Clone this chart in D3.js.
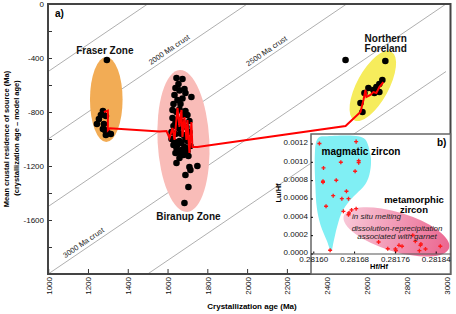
<!DOCTYPE html>
<html>
<head>
<meta charset="utf-8">
<script src="https://cdn.jsdelivr.net/npm/d3@7"></script>
<style>
  body { margin: 0; background: #fff; }
  text { font-family: "Liberation Sans", Arial, Helvetica, sans-serif; }
</style>
</head>
<body>
<script>
// ---- data ----
// main panel: [crystallization age (Ma), crustal residence (Ma)]
const fraser = [[1295,-415],[1275,-793],[1265,-822],[1290,-830],[1255,-852],[1245,-889],
  [1280,-889],[1285,-933],[1300,-956],[1315,-963],[1290,-970],[1275,-926]];
const biranup = [[1645,-548],[1675,-556],[1655,-593],[1640,-622],[1685,-630],[1690,-659],
  [1720,-689],[1635,-674],[1650,-711],[1630,-741],[1665,-741],[1625,-785],[1645,-800],
  [1690,-793],[1700,-822],[1625,-844],[1650,-859],[1710,-867],[1675,-874],[1630,-904],
  [1695,-911],[1655,-918],[1620,-948],[1710,-948],[1640,-963],[1680,-970],[1620,-1000],
  [1660,-1015],[1700,-1015],[1630,-1044],[1645,-1067],[1670,-1081],[1695,-1074],[1715,-1052],
  [1640,-1104],[1680,-1119],[1705,-1126],[1660,-1141],[1645,-1178],[1710,-1207],[1750,-1200],
  [1715,-1230],[1690,-1267],[1705,-1356],[1685,-1474],[1660,-780],[1680,-820],[1640,-880],
  [1665,-960],[1690,-1000],[1650,-1040],[1670,-1030],[1685,-1060],[1635,-1020],[1660,-1100],
  [1700,-1090],[1675,-700],[1660,-640]];
const northern = [[2495,-415],[2695,-422],[2680,-563],[2665,-593],[2650,-615],[2635,-637],
  [2610,-622],[2590,-659],[2640,-659],[2665,-652],[2570,-733],[2580,-800]];

// running mean trend (red line)
const meanTrend = [[1280,-800],[1300,-790],[1300,-935],[1310,-920],[1560,-944],[1595,-941],
  [1610,-993],[1625,-918],[1635,-1007],[1650,-770],[1660,-911],[1670,-785],[1675,-985],
  [1685,-837],[1695,-1007],[1700,-859],[1710,-1104],[1720,-874],[1725,-1059],[1750,-1059],
  [2495,-904],[2570,-800],[2585,-711],[2595,-637],[2600,-689],[2620,-674],[2635,-652],
  [2650,-659],[2665,-615],[2685,-578]];

// zone envelopes: centre, half-widths (Ma) and tilt (deg)
const zones = [
  {name: "Fraser Zone", age: 1292, res: -707, dAge: 82, dRes: 315, tilt: 0},
  {name: "Biranup Zone", age: 1680, res: -1015, dAge: 130, dRes: 526, tilt: -3},
  {name: "Northern Foreland", age: 2632, res: -607, dAge: 80, dRes: 289, tilt: 28.5}
];
const zoneColors = {"Fraser Zone": "#f2ac55", "Biranup Zone": "#f9bcb8", "Northern Foreland": "#f6ec5c"};
const zoneLabels = [
  {lines: ["Fraser Zone"], age: 1285, res: -370},
  {lines: ["Biranup Zone"], age: 1705, res: -1600},
  {lines: ["Northern", "Foreland"], age: 2697, res: -281}
];

// model-age reference lines
const crustAges = [1500, 2000, 2500, 3000, 3500];
const crustLabels = [{T: 2000, age: 1625}, {T: 2500, age: 2115}, {T: 3000, age: 1195}];

const xTicks = d3.range(1000, 3001, 200);
const yTicks = d3.range(0, -2001, -200);

// inset: [176Hf/177Hf, Lu/Hf]
const magmaticPts = [[0.281612,0.00120],[0.281684,0.00122],[0.281654,0.000995],[0.281689,0.001012],
  [0.281689,0.000991],[0.281620,0.000933],[0.281682,0.000897],[0.281619,0.000788],[0.281619,0.000777],
  [0.281645,0.000799],[0.281665,0.000679],[0.281639,0.000631],[0.281656,0.000598],[0.281669,0.000598],
  [0.281625,0.000515],[0.281659,0.00046],[0.281675,0.000475],[0.281684,0.000489],[0.281670,0.000442],
  [0.281669,0.000423],[0.281633,0.000035]];
const metamorphicPts = [[0.281728,0.000125],[0.281746,0.000052],[0.281761,0.000049],[0.281762,0.000031],
  [0.281768,0.000089],[0.281774,0.000079],[0.281795,0.000199],[0.281800,0.000133],[0.281810,0.000089],
  [0.281811,0.000104],[0.281808,0.000031],[0.281820,0.000049],[0.281849,0.000079]];
const magmaticField = [[0.281635,0.000024],[0.281627,0.000133],[0.281614,0.000314],[0.281607,0.000496],
  [0.281604,0.000751],[0.281603,0.001078],[0.281606,0.001224],[0.281612,0.001271],[0.281624,0.001279],
  [0.281688,0.001279],[0.281702,0.001242],[0.281712,0.001078],[0.281713,0.000969],[0.281708,0.000824],
  [0.281699,0.000733],[0.281686,0.00066],[0.281673,0.000587],[0.281663,0.000515],[0.281654,0.000423],
  [0.281646,0.000278],[0.281640,0.000133]];
const metamorphicField = {hf: 0.281763, luhf: 0.000235, dHf: 0.000108, dLuHf: 0.000213, tilt: 17};
const insetXTicks = [0.28160, 0.28168, 0.28176, 0.28184];
const insetYTicks = [0, 0.0002, 0.0004, 0.0006, 0.0008, 0.0010, 0.0012];

// ---- drawing ----
const width = 456, height = 314;
const svg = d3.select("body").append("svg").attr("width", width).attr("height", height);

const x = d3.scaleLinear().domain([1000, 3000]).range([48.2, 446]);
const y = d3.scaleLinear().domain([0, -2000]).range([4, 274]);
const pLeft = 48, pTop = 4, pRight = 450.5, pBottom = 274;

svg.append("defs").append("clipPath").attr("id", "plot")
  .append("rect").attr("x", pLeft).attr("y", pTop).attr("width", pRight - pLeft).attr("height", pBottom - pTop);

const plot = svg.append("g").attr("clip-path", "url(#plot)");

// crust lines
plot.selectAll("line.crust").data(crustAges).enter().append("line")
  .attr("x1", x(1000)).attr("y1", T => y(1000 - T))
  .attr("x2", x(3000)).attr("y2", T => y(3000 - T))
  .attr("stroke", "#9a9a9a").attr("stroke-width", 0.8);

crustLabels.forEach(c => {
  const px = x(c.age), py = y(c.age - c.T);
  const ang = Math.atan2(y(c.age + 100 - c.T) - py, x(c.age + 100) - px) * 180 / Math.PI;
  svg.append("text").attr("transform", `translate(${px},${py}) rotate(${ang})`)
    .attr("dy", -3.5).attr("text-anchor", "middle").attr("font-size", 7.5).attr("fill", "#222")
    .text(c.T + " Ma crust");
});

// zone envelopes
plot.selectAll("ellipse.zone").data(zones).enter().append("ellipse")
  .attr("transform", d => `translate(${x(d.age)},${y(d.res)}) rotate(${d.tilt})`)
  .attr("rx", d => x(d.age + d.dAge) - x(d.age))
  .attr("ry", d => y(d.res - d.dRes) - y(d.res))
  .attr("fill", d => zoneColors[d.name]);

// data points
plot.selectAll("circle.pt").data(fraser.concat(biranup, northern)).enter().append("circle")
  .attr("cx", d => x(d[0])).attr("cy", d => y(d[1])).attr("r", 3.3).attr("fill", "#000");

// mean trend
plot.append("path").datum(meanTrend)
  .attr("d", d3.line().x(d => x(d[0])).y(d => y(d[1])))
  .attr("fill", "none").attr("stroke", "#ff0000").attr("stroke-width", 2);

// axes
const gx = svg.append("g").attr("transform", `translate(0,${pBottom})`)
  .call(d3.axisBottom(x).tickValues(xTicks).tickSize(-5).tickFormat(d => String(d)));
gx.select(".domain").remove();
gx.selectAll(".tick line").attr("stroke", "#333");
gx.selectAll("text").attr("y", 3).attr("x", -3).attr("dy", 0).attr("text-anchor", "end")
  .attr("transform", "rotate(-90)").attr("font-size", 8).attr("fill", "#111");

const gy = svg.append("g").attr("transform", `translate(${pLeft},0)`)
  .call(d3.axisLeft(y).tickValues(yTicks).tickSize(-4).tickPadding(4)
    .tickFormat(d => (d % 400 === 0 && d > -2000) ? String(d) : ""));
gy.select(".domain").remove();
gy.selectAll(".tick line").attr("stroke", "#333");
gy.selectAll("text").attr("font-size", 8).attr("fill", "#111");
gx.attr("font-family", null); gy.attr("font-family", null);

svg.append("rect").attr("x", pLeft).attr("y", pTop).attr("width", pRight - pLeft).attr("height", pBottom - pTop)
  .attr("fill", "none").attr("stroke", "#444").attr("stroke-width", 2);

// axis titles
svg.append("text").attr("x", 252).attr("y", 309).attr("text-anchor", "middle")
  .attr("font-size", 8).attr("font-weight", "bold").text("Crystallization age (Ma)");
svg.append("text").attr("transform", "translate(8.5,139) rotate(-90)").attr("text-anchor", "middle")
  .attr("font-size", 7.5).attr("font-weight", "bold").text("Mean crustal residence of source (Ma)");
svg.append("text").attr("transform", "translate(18.5,138) rotate(-90)").attr("text-anchor", "middle")
  .attr("font-size", 7.5).attr("font-weight", "bold").text("(crystallization age \u2013 model age)");

// zone labels
zoneLabels.forEach(l => {
  const t = svg.append("text").attr("text-anchor", "middle").attr("font-size", 10)
    .attr("font-weight", "bold").attr("fill", "#111");
  l.lines.forEach((s, i) => t.append("tspan").attr("x", x(l.age)).attr("y", y(l.res) + i * 10).text(s));
});
svg.append("text").attr("x", 55).attr("y", 17).attr("font-size", 10).attr("font-weight", "bold").text("a)");

// ---- inset ----
const iL = 311, iT = 134, iR = pRight, iB = pBottom, iAxis = 253.5;
const xi = d3.scaleLinear().domain([0.2815955, 0.281869]).range([iL, iR]);
const yi = d3.scaleLinear().domain([0, 0.0013]).range([iAxis, 134.3]);

svg.append("rect").attr("x", iL).attr("y", iT).attr("width", iR - iL).attr("height", iB - iT)
  .attr("fill", "#fff").attr("stroke", "#666").attr("stroke-width", 1.5);

const grad = svg.select("defs").append("linearGradient").attr("id", "meta")
  .attr("x1", 0).attr("y1", 0).attr("x2", 1).attr("y2", 0);
grad.append("stop").attr("offset", "0%").attr("stop-color", "#f8c8d8");
grad.append("stop").attr("offset", "100%").attr("stop-color", "#eb6690");

svg.append("path").datum(magmaticField)
  .attr("d", d3.line().x(d => xi(d[0])).y(d => yi(d[1])).curve(d3.curveCatmullRomClosed))
  .attr("fill", "#80eff4");

const mf = metamorphicField;
svg.append("ellipse")
  .attr("transform", `translate(${xi(mf.hf)},${yi(mf.luhf)}) rotate(${mf.tilt})`)
  .attr("rx", xi(mf.hf + mf.dHf) - xi(mf.hf))
  .attr("ry", yi(0) - yi(mf.dLuHf))
  .attr("fill", "url(#meta)");

svg.selectAll("path.zr").data(magmaticPts.concat(metamorphicPts)).enter().append("path")
  .attr("transform", d => `translate(${xi(d[0])},${yi(d[1])})`)
  .attr("d", d3.symbol().type(d3.symbolCross).size(9)).attr("fill", "#ff1a1a");

const gxi = svg.append("g").attr("transform", `translate(0,${iAxis})`)
  .call(d3.axisBottom(xi).tickValues(insetXTicks).tickSize(-2).tickSizeOuter(0).tickPadding(2.5)
    .tickFormat(d3.format(".5f")));
gxi.select(".domain").attr("stroke", "#555").attr("stroke-width", 1.2);
gxi.selectAll("text").attr("font-size", 8).attr("fill", "#111");

const gyi = svg.append("g").attr("transform", `translate(${iL},0)`)
  .call(d3.axisLeft(yi).tickValues(insetYTicks).tickSize(-2).tickSizeOuter(0).tickPadding(3)
    .tickFormat(d3.format(".4f")));
gyi.select(".domain").remove();
gyi.selectAll("text").attr("font-size", 8).attr("fill", "#111").attr("dy", "0.18em");
gxi.attr("font-family", null); gyi.attr("font-family", null);

svg.append("text").attr("x", 379).attr("y", 269).attr("text-anchor", "middle")
  .attr("font-size", 7.5).attr("font-weight", "bold").text("Hf/Hf");
svg.append("text").attr("transform", "translate(280.5,193) rotate(-90)").attr("text-anchor", "middle")
  .attr("font-size", 7.5).attr("font-weight", "bold").text("Lu/Hf");

svg.append("text").attr("x", 361).attr("y", 155).attr("text-anchor", "middle")
  .attr("font-size", 10).attr("font-weight", "bold").text("magmatic zircon");
const mt = svg.append("text").attr("text-anchor", "middle").attr("font-size", 9.5).attr("font-weight", "bold");
mt.append("tspan").attr("x", 414).attr("y", 202.5).text("metamorphic");
mt.append("tspan").attr("x", 414).attr("y", 212.5).text("zircon");
svg.append("text").attr("x", 352).attr("y", 219).attr("font-size", 8).attr("font-style", "italic")
  .attr("fill", "#222").text("in situ melting");
const dt = svg.append("text").attr("text-anchor", "middle").attr("font-size", 8)
  .attr("font-style", "italic").attr("fill", "#222");
dt.append("tspan").attr("x", 397).attr("y", 231).text("dissolution-reprecipitation");
dt.append("tspan").attr("x", 397).attr("y", 239).text("associated with garnet");
svg.append("text").attr("x", 437).attr("y", 146).attr("font-size", 10).attr("font-weight", "bold").text("b)");
</script>
</body>
</html>
